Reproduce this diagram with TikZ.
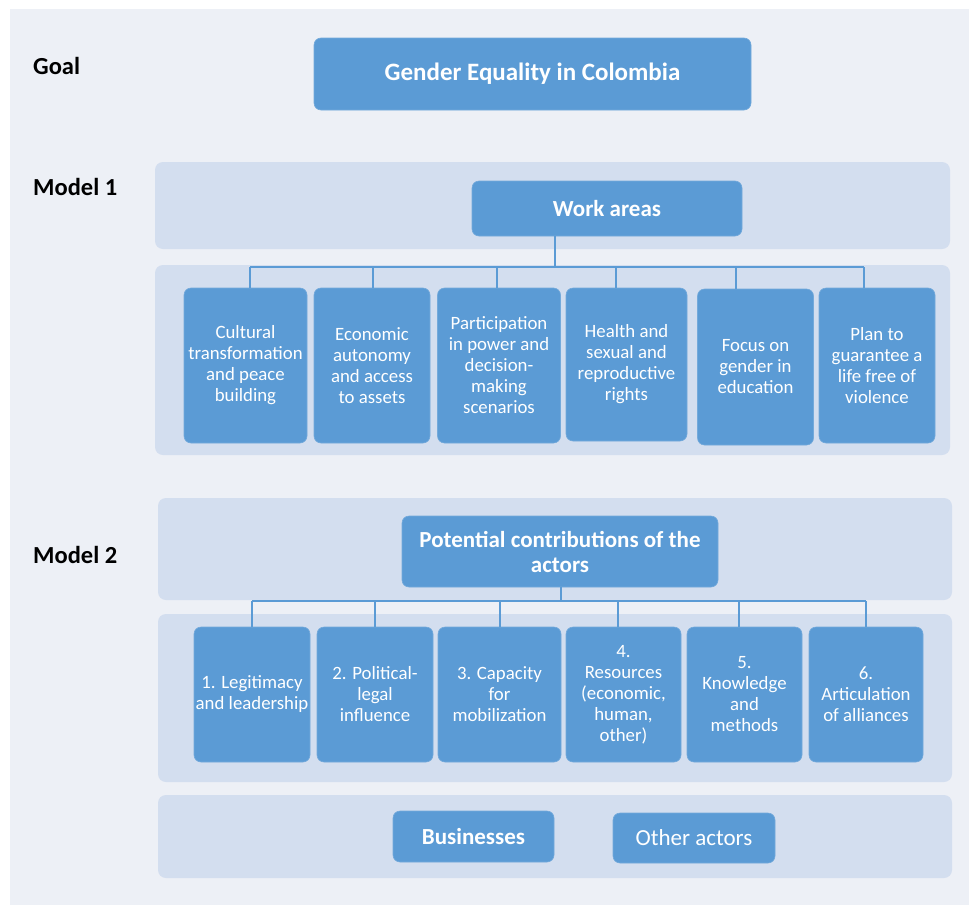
\documentclass[tikz,border=0pt]{standalone}
\usepackage{fontspec}
\setmainfont{Carlito}
\definecolor{boxblue}{HTML}{5B9BD5}
\definecolor{bandblue}{HTML}{D3DEEF}
\definecolor{bggray}{HTML}{EDF0F6}
\tikzset{
  band/.style={fill=bandblue, rounded corners=8pt, draw=none},
  bluebox/.style={fill=boxblue, draw=boxblue!85!white, line width=0.6pt, rounded corners=7pt,
    text=white, align=center, inner sep=1pt, font=\fontsize{18.8}{21}\selectfont},
  headbox/.style={bluebox, font=\bfseries\fontsize{23}{25}\selectfont},
  sidelabel/.style={anchor=west, font=\bfseries\fontsize{24.5}{25}\selectfont, text=black, inner sep=0pt},
  conn/.style={draw=boxblue, line width=2pt},
}
\begin{document}
\begin{tikzpicture}[x=1pt,y=-1pt]
\useasboundingbox (0,0) rectangle (969,905);
\fill[white] (0,0) rectangle (969,905);
\fill[bggray] (10,9) rectangle (969,905);

% bands
\fill[band] (155,162) rectangle (950,249);
\fill[band] (155,265) rectangle (950,455);
\fill[band] (158,498) rectangle (952,600);
\fill[band] (158,614) rectangle (952,782);
\fill[band] (158,795) rectangle (952,878);

% side labels
\node[sidelabel] (lgoal) at (33,66) {Goal};
\node[sidelabel] (lm1) at (33,187) {Model 1};
\node[sidelabel] (lm2) at (33,555) {Model 2};

% goal
\node[headbox, font=\bfseries\fontsize{25}{27}\selectfont, minimum width=437pt, minimum height=72pt] (goal) at (532.5,74) {Gender Equality in Colombia};

% Model 1
\node[headbox, minimum width=270pt, minimum height=55pt] (wa) at (607,208.5) {Work areas};

\node[bluebox, minimum width=123pt, minimum height=155pt] (a1) at (245.5,365.5) {Cultural\\transformation\\and peace\\building};
\node[bluebox, minimum width=116pt, minimum height=155pt] (a2) at (372,365.5) {Economic\\autonomy\\and access\\to assets};
\node[bluebox, minimum width=123pt, minimum height=155pt] (a3) at (499,365.5) {Participation\\in power and\\decision-\\making\\scenarios};
\node[bluebox, minimum width=121pt, minimum height=153pt] (a4) at (626.5,364.5) {Health and\\sexual and\\reproductive\\rights};
\node[bluebox, minimum width=116pt, minimum height=156pt] (a5) at (755.5,367) {Focus on\\gender in\\education};
\node[bluebox, minimum width=116pt, minimum height=155pt] (a6) at (877,365.5) {Plan to\\guarantee a\\life free of\\violence};

\coordinate (h1) at (555,267);
\coordinate (d1) at (250,267);
\coordinate (d2) at (373,267);
\coordinate (d3) at (497,267);
\coordinate (d4) at (616,267);
\coordinate (d5) at (736,267);
\coordinate (d6) at (864,267);
\draw[conn] (wa.south -| h1) -- (h1);
\draw[conn] (d1) -- (d6);
\draw[conn] (d1) -- (d1 |- a1.north);
\draw[conn] (d2) -- (d2 |- a2.north);
\draw[conn] (d3) -- (d3 |- a3.north);
\draw[conn] (d4) -- (d4 |- a4.north);
\draw[conn] (d5) -- (d5 |- a5.north);
\draw[conn] (d6) -- (d6 |- a6.north);

% Model 2
\node[headbox, minimum width=316pt, minimum height=71pt] (pc) at (560,551.5) {Potential contributions of the\\actors};

\node[bluebox, minimum width=116pt, minimum height=135pt] (c1) at (252,694.5) {1. Legitimacy\\and leadership};
\node[bluebox, minimum width=116pt, minimum height=135pt] (c2) at (375,694.5) {2. Political-\\legal\\influence};
\node[bluebox, minimum width=123pt, minimum height=135pt] (c3) at (499.5,694.5) {3. Capacity\\for\\mobilization};
\node[bluebox, minimum width=115pt, minimum height=135pt] (c4) at (623.5,694.5) {4.\\Resources\\(economic,\\human,\\other)};
\node[bluebox, minimum width=115pt, minimum height=135pt] (c5) at (744.5,694.5) {5.\\Knowledge\\and\\methods};
\node[bluebox, minimum width=114pt, minimum height=135pt] (c6) at (866,694.5) {6.\\Articulation\\of alliances};

\coordinate (h2) at (561,601);
\coordinate (e1) at (252,601);
\coordinate (e2) at (375,601);
\coordinate (e3) at (500,601);
\coordinate (e4) at (618,601);
\coordinate (e5) at (739,601);
\coordinate (e6) at (866,601);
\draw[conn] (pc.south -| h2) -- (h2);
\draw[conn] (e1) -- (e6);
\draw[conn] (e1) -- (e1 |- c1.north);
\draw[conn] (e2) -- (e2 |- c2.north);
\draw[conn] (e3) -- (e3 |- c3.north);
\draw[conn] (e4) -- (e4 |- c4.north);
\draw[conn] (e5) -- (e5 |- c5.north);
\draw[conn] (e6) -- (e6 |- c6.north);

% actors
\node[headbox, minimum width=161pt, minimum height=51pt] (bus) at (473.5,836.5) {Businesses};
\node[bluebox, minimum width=162pt, minimum height=50pt, font=\fontsize{23}{25}\selectfont] (oth) at (694,838) {Other actors};
\end{tikzpicture}
\end{document}
